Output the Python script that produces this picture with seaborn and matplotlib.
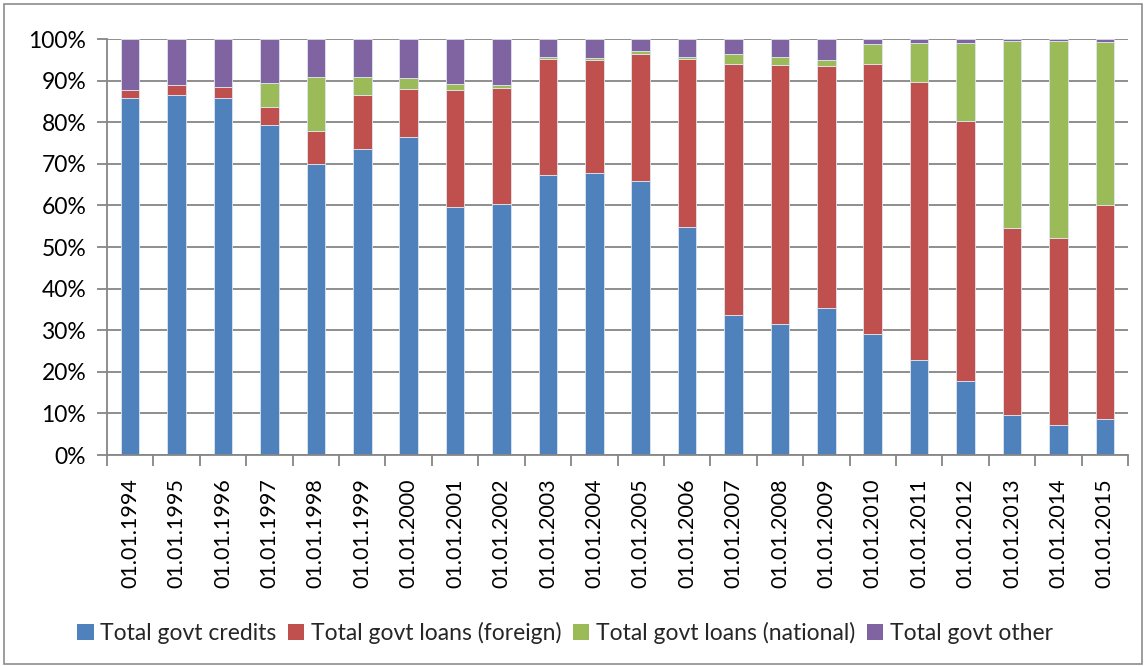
import matplotlib
matplotlib.use("Agg")
import matplotlib.pyplot as plt
from matplotlib.patches import Patch, Rectangle
from matplotlib.ticker import FixedLocator
import numpy as np
import pandas as pd
import seaborn as sns

# Government debt structure, share of total (%)
dates = ["01.01.1994", "01.01.1995", "01.01.1996", "01.01.1997", "01.01.1998",
         "01.01.1999", "01.01.2000", "01.01.2001", "01.01.2002", "01.01.2003",
         "01.01.2004", "01.01.2005", "01.01.2006", "01.01.2007", "01.01.2008",
         "01.01.2009", "01.01.2010", "01.01.2011", "01.01.2012", "01.01.2013",
         "01.01.2014", "01.01.2015"]

credits = [85.9, 86.6, 85.7, 79.3, 69.9, 73.5, 76.5, 59.7, 60.3, 67.2, 67.9,
           65.9, 54.9, 33.7, 31.4, 35.3, 29.2, 22.9, 17.8, 9.5, 7.1, 8.7]
loans_foreign = [1.8, 2.3, 2.7, 4.4, 7.9, 13.1, 11.5, 28.1, 28.0, 28.0, 27.1,
                 30.6, 40.3, 60.4, 62.4, 58.3, 64.8, 66.8, 62.4, 45.1, 45.0, 51.5]
loans_national = [0.0, 0.0, 0.0, 5.7, 13.1, 4.2, 2.7, 1.5, 0.6, 0.4, 0.4,
                  0.6, 0.5, 2.2, 1.9, 1.4, 4.9, 9.4, 18.8, 45.0, 47.4, 39.0]
other = [12.3, 11.1, 11.6, 10.6, 9.1, 9.2, 9.3, 10.7, 11.1, 4.4, 4.6,
         2.9, 4.3, 3.7, 4.3, 5.0, 1.1, 0.9, 1.0, 0.4, 0.5, 0.8]

series_names = ["Total govt credits", "Total govt loans (foreign)",
                "Total govt loans (national)", "Total govt other"]
series_values = [credits, loans_foreign, loans_national, other]
colors = ["#4F81BD", "#C0504D", "#9BBB59", "#8064A2"]

sns.set_theme(style="white")
plt.rcParams["font.family"] = ["Lato", "DejaVu Sans"]

fig = plt.figure(figsize=(11.48, 6.66), dpi=100)
ax = fig.add_axes([107 / 1148, 1 - 455 / 666, (1128 - 107) / 1148, (455 - 39) / 666])

grid_c = "#868686"
ax.set_axisbelow(True)
ax.yaxis.grid(True, color=grid_c, linewidth=1.3)

bottom = np.zeros(len(dates))
for name, vals, col in zip(series_names, series_values, colors):
    df = pd.DataFrame({"date": dates, "share": vals})
    sns.barplot(data=df, x="date", y="share", order=dates, color=col,
                width=0.4, bottom=bottom, ax=ax, saturation=1,
                edgecolor="#dfe6f0", linewidth=0.6, errorbar=None)
    bottom = bottom + np.array(vals)

ax.set_xlim(-0.5, len(dates) - 0.5)
ax.set_ylim(0, 100)
ax.set_yticks(np.arange(0, 101, 10))
ax.set_yticklabels([f"{v}%" for v in range(0, 101, 10)], fontsize=16.5, color="black")
ax.set_xlabel("")
ax.set_ylabel("")
ax.set_xticks(range(len(dates)))
ax.set_xticklabels(dates, rotation=90, fontsize=15.5, color="black")
ax.tick_params(axis="x", which="major", length=0, pad=17)
ax.xaxis.set_minor_locator(FixedLocator(np.arange(-0.5, len(dates), 1.0)))
ax.tick_params(axis="x", which="minor", length=8, width=1.3, color=grid_c, bottom=True)
ax.tick_params(axis="y", which="major", length=7, width=1.3, color=grid_c, left=True, pad=8)

for side in ["top", "right"]:
    ax.spines[side].set_visible(False)
for side in ["left", "bottom"]:
    ax.spines[side].set_color(grid_c)
    ax.spines[side].set_linewidth(1.3)

handles = [Patch(facecolor=c, edgecolor="none") for c in colors]
fig.legend(handles, series_names, loc="center", bbox_to_anchor=(565 / 1148, 1 - 633 / 666),
           ncol=4, frameon=False, fontsize=16.5, handlelength=0.7, handleheight=0.7,
           handletextpad=0.3, columnspacing=0.5)

# Outer chart frame
fig.patches.append(Rectangle((4 / 1148, 2 / 666), 1138 / 1148, 660 / 666,
                             transform=fig.transFigure, fill=False,
                             edgecolor="#8c8c8c", linewidth=1.2))

fig.savefig("out.png", dpi=100)
